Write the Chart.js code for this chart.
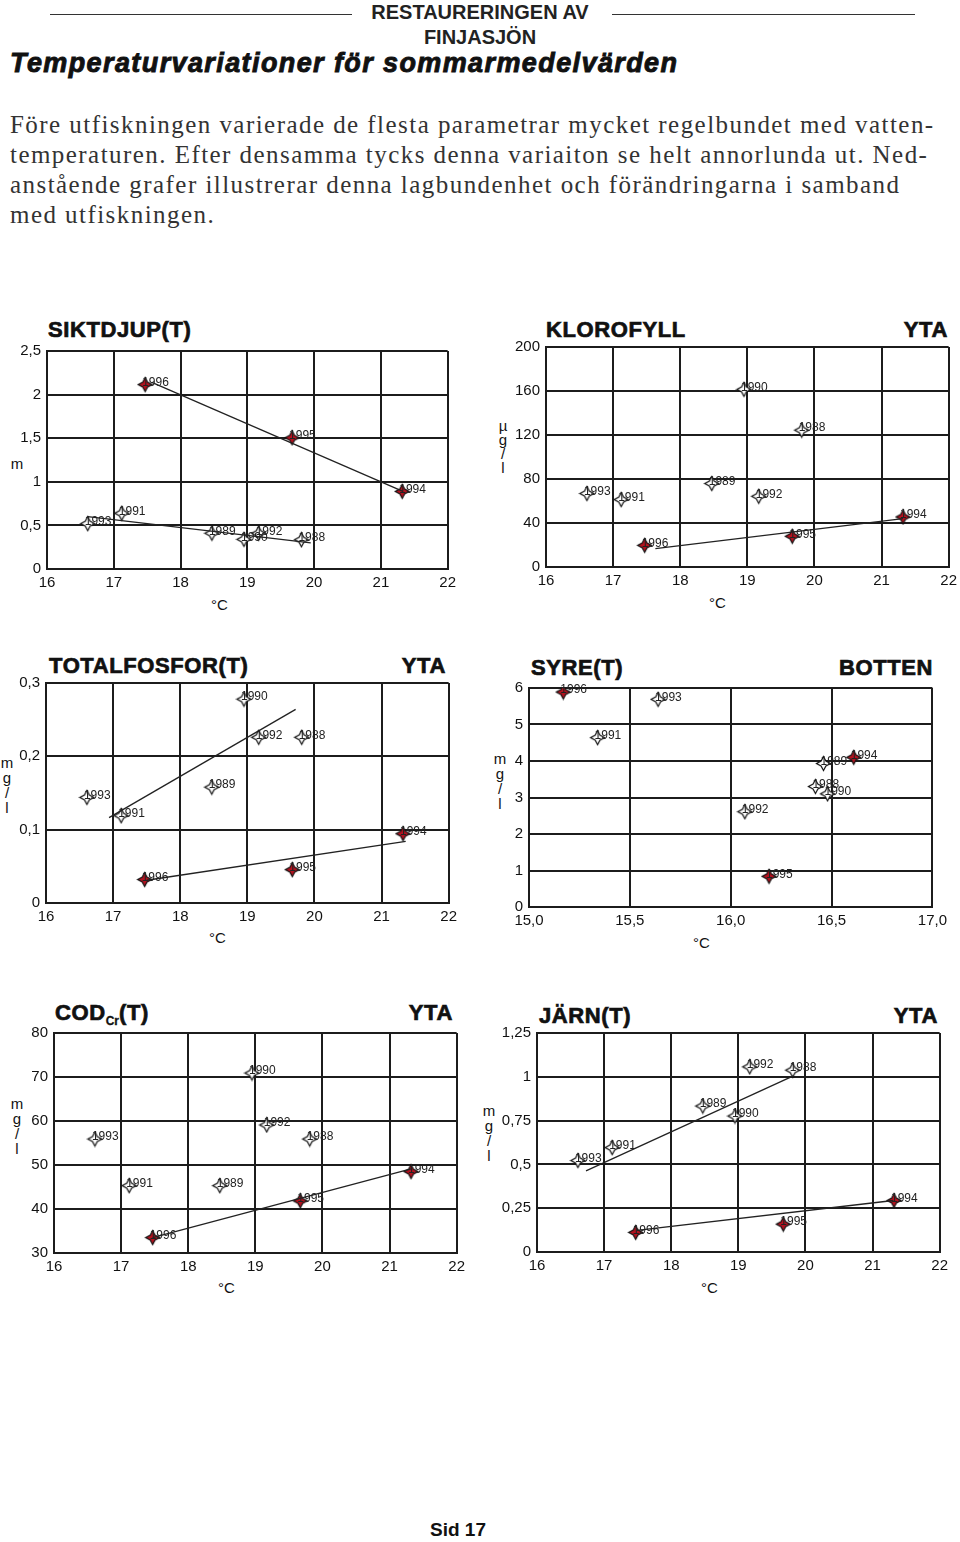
<!DOCTYPE html>
<html>
<head>
<meta charset="utf-8">
<script src="https://cdn.jsdelivr.net/npm/chart.js@4.4.0/dist/chart.umd.min.js"></script>
<style>
body { margin: 0; background: #fff; }
#page { position: relative; width: 960px; height: 1542px; overflow: hidden; font-family: "Liberation Sans", Arial, sans-serif; color: #111; }
.abs { position: absolute; white-space: nowrap; }
.rule { position: absolute; top: 14px; height: 1px; background: #333; }
.head { left: 0; width: 960px; text-align: center; font-family: "Liberation Sans Narrow", "Liberation Sans", sans-serif; font-weight: bold; font-size: 20px; line-height: 22px; color: #222; }
.title { font-weight: bold; font-size: 22px; line-height: 22px; letter-spacing: 0.6px; -webkit-text-stroke: 0.7px #111; }
.unit { font-size: 15px; line-height: 15px; text-align: center; width: 14px; }
.deg { font-size: 15px; line-height: 16px; }
canvas { position: absolute; }
</style>
</head>
<body>
<div id="page">
  <div class="rule" style="left:50px;width:302px"></div>
  <div class="rule" style="left:612px;width:303px"></div>
  <div class="abs head" style="top:1px">RESTAURERINGEN AV</div>
  <div class="abs head" style="top:26px">FINJASJÖN</div>
  <div class="abs" style="left:10px;top:48px;font-weight:bold;font-style:italic;font-size:27px;line-height:30px;letter-spacing:1.4px;-webkit-text-stroke:0.9px #111">Temperaturvariationer för sommarmedelvärden</div>
  <div class="abs" style="left:10px;top:110px;font-family:'Liberation Serif',serif;font-size:25px;line-height:30px;letter-spacing:1.45px;color:#333">Före utfiskningen varierade de flesta parametrar mycket regelbundet med vatten-<br>temperaturen. Efter densamma tycks denna variaiton se helt annorlunda ut. Ned-<br>anstående grafer illustrerar denna lagbundenhet och förändringarna i samband<br>med utfiskningen.</div>

  <!-- chart titles -->
  <div class="abs title" style="left:48px;top:319px">SIKTDJUP(T)</div>
  <div class="abs title" style="left:546px;top:319px">KLOROFYLL</div>
  <div class="abs title" style="right:12px;top:319px">YTA</div>
  <div class="abs title" style="left:49px;top:655px">TOTALFOSFOR(T)</div>
  <div class="abs title" style="right:514px;top:655px">YTA</div>
  <div class="abs title" style="left:531px;top:657px">SYRE(T)</div>
  <div class="abs title" style="right:27px;top:657px">BOTTEN</div>
  <div class="abs title" style="left:55px;top:1002px">COD<span style="font-size:12px;position:relative;top:5px;letter-spacing:0;-webkit-text-stroke:0.3px #111">Cr</span>(T)</div>
  <div class="abs title" style="right:507px;top:1002px">YTA</div>
  <div class="abs title" style="left:539px;top:1005px">JÄRN(T)</div>
  <div class="abs title" style="right:22px;top:1005px">YTA</div>

  <!-- unit labels -->
  <div class="abs unit" style="left:10px;top:456px">m</div>
  <div class="abs unit" style="left:496px;top:419px;line-height:14px">µ<br>g<br>/<br>l</div>
  <div class="abs unit" style="left:0px;top:755px">m<br>g<br>/<br>l</div>
  <div class="abs unit" style="left:493px;top:751px">m<br>g<br>/<br>l</div>
  <div class="abs unit" style="left:10px;top:1096px">m<br>g<br>/<br>l</div>
  <div class="abs unit" style="left:482px;top:1103px">m<br>g<br>/<br>l</div>

  <div class="abs deg" style="left:211px;top:597px">°C</div>
  <div class="abs deg" style="left:709px;top:595px">°C</div>
  <div class="abs deg" style="left:209px;top:930px">°C</div>
  <div class="abs deg" style="left:693px;top:935px">°C</div>
  <div class="abs deg" style="left:218px;top:1280px">°C</div>
  <div class="abs deg" style="left:701px;top:1280px">°C</div>

  <div class="abs" style="left:0;width:916px;text-align:center;top:1519px;font-weight:bold;font-size:19px;line-height:22px">Sid 17</div>
</div>

<script>
// years: before (open stars) and after (red stars) the fishing-out
var YEARS_OLD = ['1988', '1989', '1990', '1991', '1992', '1993'];
var YEARS_NEW = ['1994', '1995', '1996'];

// summer mean temperature (°C), surface and bottom
var TEMP_YTA_OLD = [19.81, 18.47, 18.95, 17.12, 19.17, 16.61];
var TEMP_YTA_NEW = [21.32, 19.67, 17.47];
var TEMP_BOTTEN_OLD = [16.42, 16.46, 16.48, 15.34, 16.07, 15.64];
var TEMP_BOTTEN_NEW = [16.61, 16.19, 15.17];

// series values
var SIKTDJUP_OLD = [0.335, 0.41, 0.34, 0.64, 0.41, 0.52];
var SIKTDJUP_NEW = [0.89, 1.505, 2.115];
var KLOROFYLL_OLD = [124.4, 75.9, 161.5, 61.3, 64.3, 66.8];
var KLOROFYLL_NEW = [45.5, 27.9, 19.7];
var FOSFOR_OLD = [0.226, 0.158, 0.278, 0.119, 0.226, 0.144];
var FOSFOR_NEW = [0.0945, 0.0455, 0.032];
var SYRE_OLD = [3.30, 3.93, 3.10, 4.64, 2.61, 5.69];
var SYRE_NEW = [4.10, 0.84, 5.89];
var COD_OLD = [55.9, 45.3, 70.9, 45.3, 59.1, 55.9];
var COD_NEW = [48.5, 41.85, 33.5];
var JARN_OLD = [1.038, 0.833, 0.776, 0.596, 1.057, 0.522];
var JARN_NEW = [0.294, 0.159, 0.112];

// trend lines: [x0, x1], [y0, y1]
var SIKT_TREND_OLD = [[16.61, 19.95], [0.60, 0.30]];
var SIKT_TREND_NEW = [[17.57, 21.33], [2.14, 0.89]];
var KLORO_TREND_NEW = [[17.63, 21.32], [16.7, 44.0]];
var FOSFOR_TREND_OLD = [[16.94, 19.72], [0.1164, 0.2641]];
var FOSFOR_TREND_NEW = [[17.50, 21.36], [0.031, 0.084]];
var COD_TREND_NEW = [[17.47, 21.32], [33.5, 49.1]];
var JARN_TREND_OLD = [[16.73, 19.82], [0.463, 1.005]];
var JARN_TREND_NEW = [[17.49, 21.31], [0.123, 0.294]];

// axis ranges: [min, max, step]
var X_YTA = [16, 22, 1];
var X_BOTTEN = [15, 17, 0.5];

var page = document.getElementById('page');
var LINE = '#1c1c1c';

function pts(xs, ys) {
    return xs.map(function (x, i) { return { x: x, y: ys[i] }; });
}

function trend(t) {
    return pts(t[0], t[1]);
}

// four pointed star marker
function starImage(fill) {
    var c = document.createElement('canvas');
    c.width = 17;
    c.height = 17;
    var g = c.getContext('2d');
    g.translate(8.5, 8.5);
    g.beginPath();
    for (var i = 0; i < 8; i++) {
        var r = i % 2 == 0 ? 7 : 3.4;
        var a = -Math.PI / 2 + i * Math.PI / 4;
        g.lineTo(r * Math.cos(a), r * Math.sin(a));
    }
    g.closePath();
    g.fillStyle = fill;
    g.fill();
    g.lineWidth = 1.2;
    g.strokeStyle = '#111';
    g.stroke();
    return c;
}
var OPEN_STAR = starImage('#ffffff');
var RED_STAR = starImage('#b3121f');

//scrive l'anno vicino ad ogni punto
var yearLabels = {
    id: 'yearLabels',
    afterDatasetsDraw: function (chart) {
        var ctx = chart.ctx;
        ctx.save();
        ctx.font = '12px "Liberation Sans"';
        ctx.fillStyle = '#222';
        ctx.textBaseline = 'middle';
        chart.data.datasets.forEach(function (ds, i) {
            if (!ds.years) return;
            chart.getDatasetMeta(i).data.forEach(function (el, j) {
                ctx.fillText(ds.years[j], el.x - 3, el.y - 2);
            });
        });
        ctx.restore();
    }
};

function commaFmt(v) {
    return String(Math.round(v * 100) / 100).replace('.', ',');
}
function oneDecFmt(v) {
    return v.toFixed(1).replace('.', ',');
}

function axis(r, fmt, dir) {
    return {
        type: 'linear',
        min: r[0],
        max: r[1],
        ticks: {
            stepSize: r[2],
            color: '#111',
            font: { family: 'Liberation Sans', size: 15 },
            padding: dir == 'x' ? 5 : 6,
            callback: fmt,
            autoSkip: false,
            maxRotation: 0
        },
        grid: { color: LINE, lineWidth: 2, drawTicks: false },
        border: { color: LINE, width: 2 },
        afterFit: function (s) {
            if (dir == 'x') s.height = 26; else s.width = 44;
        }
    };
}

function buildConfig(c) {
    var datasets = [];
    c.trends.forEach(function (t) {
        datasets.push({ data: trend(t), showLine: true, borderColor: '#222', borderWidth: 1.3, pointRadius: 0 });
    });
    datasets.push({ data: pts(c.xOld, c.yOld), years: YEARS_OLD, pointStyle: OPEN_STAR, pointRadius: 7 });
    datasets.push({ data: pts(c.xNew, c.yNew), years: YEARS_NEW, pointStyle: RED_STAR, pointRadius: 7 });
    return {
        type: 'scatter',
        data: { datasets: datasets },
        options: {
            responsive: false,
            animation: false,
            devicePixelRatio: 1,
            layout: { padding: { top: 4, right: 4, left: 0, bottom: 0 } },
            plugins: { legend: { display: false }, tooltip: { enabled: false } },
            scales: { x: axis(c.xRange, c.xFmt, 'x'), y: axis(c.yRange, c.yFmt, 'y') }
        },
        plugins: [yearLabels]
    };
}

// draws a chart so that its plot area sits on box [left, top, right, bottom]
function addChart(box, c) {
    var bw = box[2] - box[0], bh = box[3] - box[1];
    var cv = document.createElement('canvas');
    cv.width = bw + 80;
    cv.height = bh + 60;
    page.appendChild(cv);
    var ch = new Chart(cv, buildConfig(c));
    var a = ch.chartArea;
    var mL = a.left, mT = a.top, mR = cv.width - a.right, mB = cv.height - a.bottom;
    ch.destroy();
    page.removeChild(cv);

    cv = document.createElement('canvas');
    cv.width = Math.round(bw + mL + mR);
    cv.height = Math.round(bh + mT + mB);
    cv.style.left = Math.round(box[0] - mL) + 'px';
    cv.style.top = Math.round(box[1] - mT) + 'px';
    page.appendChild(cv);
    new Chart(cv, buildConfig(c));
}

addChart([47, 351, 448, 569], {
    xOld: TEMP_YTA_OLD, yOld: SIKTDJUP_OLD, xNew: TEMP_YTA_NEW, yNew: SIKTDJUP_NEW,
    trends: [SIKT_TREND_OLD, SIKT_TREND_NEW],
    xRange: X_YTA, yRange: [0, 2.5, 0.5], xFmt: commaFmt, yFmt: commaFmt
});
addChart([546, 347, 949, 567], {
    xOld: TEMP_YTA_OLD, yOld: KLOROFYLL_OLD, xNew: TEMP_YTA_NEW, yNew: KLOROFYLL_NEW,
    trends: [KLORO_TREND_NEW],
    xRange: X_YTA, yRange: [0, 200, 40], xFmt: commaFmt, yFmt: commaFmt
});
addChart([46, 683, 449, 903], {
    xOld: TEMP_YTA_OLD, yOld: FOSFOR_OLD, xNew: TEMP_YTA_NEW, yNew: FOSFOR_NEW,
    trends: [FOSFOR_TREND_OLD, FOSFOR_TREND_NEW],
    xRange: X_YTA, yRange: [0, 0.3, 0.1], xFmt: commaFmt, yFmt: commaFmt
});
addChart([529, 688, 932, 907], {
    xOld: TEMP_BOTTEN_OLD, yOld: SYRE_OLD, xNew: TEMP_BOTTEN_NEW, yNew: SYRE_NEW,
    trends: [],
    xRange: X_BOTTEN, yRange: [0, 6, 1], xFmt: oneDecFmt, yFmt: commaFmt
});
addChart([54, 1033, 457, 1253], {
    xOld: TEMP_YTA_OLD, yOld: COD_OLD, xNew: TEMP_YTA_NEW, yNew: COD_NEW,
    trends: [COD_TREND_NEW],
    xRange: X_YTA, yRange: [30, 80, 10], xFmt: commaFmt, yFmt: commaFmt
});
addChart([537, 1033, 940, 1252], {
    xOld: TEMP_YTA_OLD, yOld: JARN_OLD, xNew: TEMP_YTA_NEW, yNew: JARN_NEW,
    trends: [JARN_TREND_OLD, JARN_TREND_NEW],
    xRange: X_YTA, yRange: [0, 1.25, 0.25], xFmt: commaFmt, yFmt: commaFmt
});
</script>
</body>
</html>
